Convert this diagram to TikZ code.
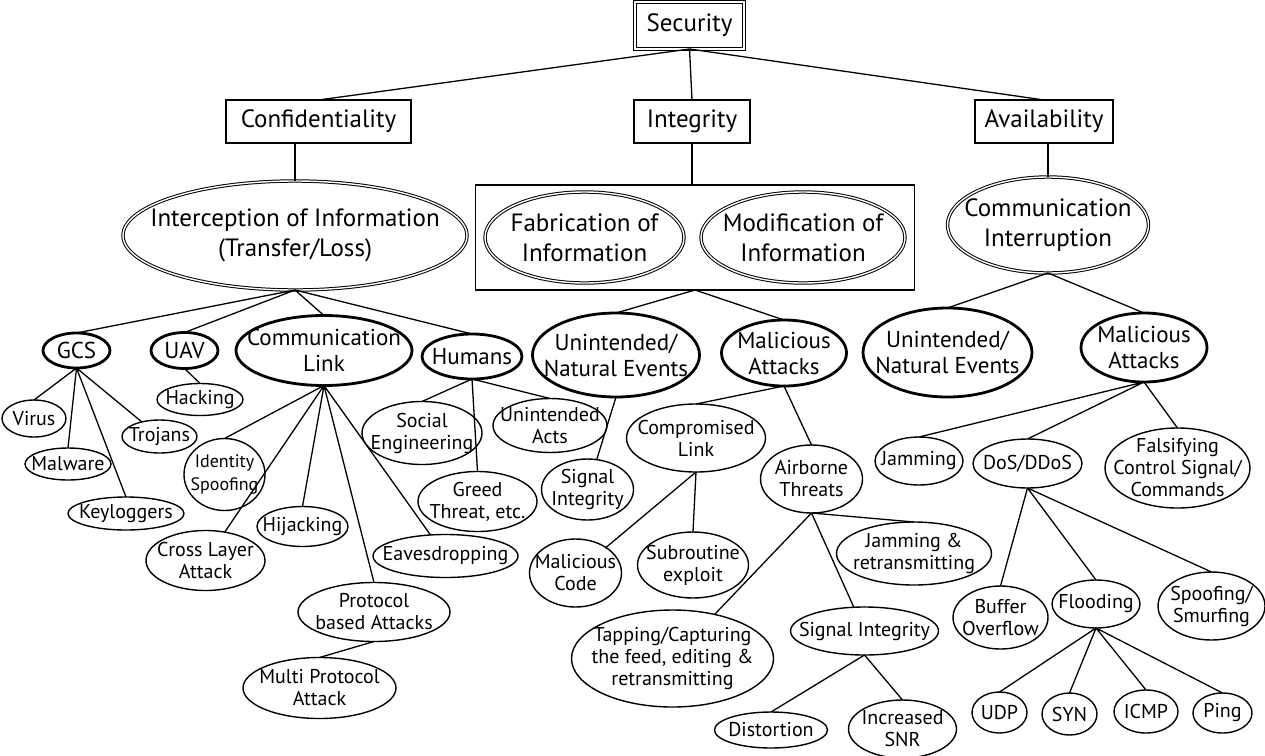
\documentclass[tikz,border=0pt]{standalone}
\usepackage{fontspec}
\setmainfont{PT Sans}
\usetikzlibrary{shapes,positioning,fit}

\begin{document}
\begin{tikzpicture}[x=1pt, y=1pt, line width=1.3pt,
        dims/.style 2 args={minimum width=#1pt, minimum height=#2pt},
        goal/.style={rectangle, draw, line width=1.2pt, inner sep=0pt, outer sep=0pt, font=\fontsize{25}{30}\selectfont},
        threat/.style={ellipse, draw, double, line width=1pt, double distance=1.4pt, inner xsep=-40pt, inner ysep=-25pt, outer sep=0pt, align=center, font=\fontsize{25}{30}\selectfont},
        source/.style={ellipse, draw, line width=2.8pt, inner xsep=-40pt, inner ysep=-25pt, outer sep=0pt, align=center, font=\fontsize{23}{26}\selectfont},
        attack/.style={ellipse, draw, line width=1.4pt, inner xsep=-40pt, inner ysep=-25pt, outer sep=0pt, align=center, font=\fontsize{20}{22}\selectfont}]

        \useasboundingbox (0,0) rectangle (1265,-755);

        % top of the tree
        \node[goal, double, double distance=2pt, line width=1pt, dims={109}{47}] (security) at (689.5,-25.5) {Security};
        \node[goal, dims={185}{43}, below=51pt of security, xshift=-371pt] (conf) {Confidentiality};
        \node[goal, dims={116}{43}, below=51pt of security, xshift=2.5pt] (integ) {Integrity};
        \node[goal, dims={138}{43}, below=51pt of security, xshift=354.5pt] (avail) {Availability};

        \node[threat, dims={344}{109}, below=38pt of conf, xshift=-23.5pt] (intercept) {Interception of Information\\(Transfer/Loss)};
        \node[threat, dims={199}{91}, below=49pt of integ, xshift=-107.5pt] (fabric) {Fabrication of\\Information};
        \node[threat, dims={204}{91}, right=17pt of fabric] (modif) {Modification of\\Information};
        \node[draw, line width=1.2pt, fit=(fabric)(modif), inner xsep=9.5pt, inner ysep=7pt, outer sep=0pt] (infobox) {};
        \node[threat, dims={201}{96}, below=34pt of avail, xshift=4pt] (commint) {Communication\\Interruption};

        % sources of threat
        \node[source, dims={67}{35}, below=43pt of intercept, xshift=-218.5pt] (gcs) {GCS};
        \node[source, dims={67}{36}, right=41pt of gcs] (uav) {UAV};
        \node[source, dims={176}{70}, right=18pt of uav] (commlink) {Communication\\Link};
        \node[source, dims={100}{45}, right=10pt of commlink, yshift=-6pt] (humans) {Humans};
        \node[source, dims={167}{84}, below=23pt of infobox, xshift=-79pt] (unint1) {Unintended/\\Natural Events};
        \node[source, dims={125}{66}, right=22pt of unint1, yshift=2pt] (malic1) {Malicious\\Attacks};
        \node[source, dims={169}{89}, below=35pt of commint, xshift=-100.5pt] (unint2) {Unintended/\\Natural Events};
        \node[source, dims={126}{69}, right=49pt of unint2, yshift=5pt] (malic2) {Malicious\\Attacks};

        % confidentiality attacks
        \node[attack, dims={64}{37}, below=32pt of gcs, xshift=-42.5pt] (virus) {Virus};
        \node[attack, dims={86}{32}, below=80pt of gcs, xshift=-8.5pt] (malware) {Malware};
        \node[attack, dims={116}{33}, below=129pt of gcs, xshift=49.5pt] (keylog) {Keyloggers};
        \node[attack, dims={75}{33}, below=52pt of gcs, xshift=83pt] (trojans) {Trojans};
        \node[attack, dims={86}{32}, below=15pt of uav, xshift=15.5pt] (hacking) {Hacking};
        \node[attack, dims={81}{72}, below=53pt of commlink, xshift=-99.5pt, font=\fontsize{18}{23}\selectfont] (identity) {Identity\\Spoofing};
        \node[attack, dims={119}{60}, below=145pt of commlink, xshift=-118.5pt] (crosslayer) {Cross Layer\\Attack};
        \node[attack, dims={91}{40}, below=121pt of commlink, xshift=-21.5pt] (hijack) {Hijacking};
        \node[attack, dims={145}{43}, below=149pt of commlink, xshift=121.5pt] (eaves) {Eavesdropping};
        \node[attack, dims={152}{59}, below=197pt of commlink, xshift=50pt] (protocol) {Protocol\\based Attacks};
        \node[attack, dims={153}{61}, below=16pt of protocol, xshift=-54.5pt] (multiproto) {Multi Protocol\\Attack};
        \node[attack, dims={120}{63}, below=22.5pt of humans, xshift=-50pt] (social) {Social\\Engineering};
        \node[attack, dims={119}{60}, below=92.5pt of humans, xshift=5.5pt] (greed) {Greed\\Threat, etc.};
        \node[attack, dims={114}{54}, below=19.5pt of humans, xshift=78pt] (unacts) {Unintended\\Acts};

        % integrity attacks
        \node[attack, dims={92}{61}, below=62pt of unint1, xshift=-28.5pt] (sigint1) {Signal\\Integrity};
        \node[attack, dims={139}{68}, below=18pt of malic1, xshift=-88pt] (complink) {Compromised\\Link};
        \node[attack, dims={102}{68}, below=59pt of malic1, xshift=27.5pt] (airborne) {Airborne\\Threats};
        \node[attack, dims={92}{68}, below=67pt of complink, xshift=-120.5pt] (malcode) {Malicious\\Code};
        \node[attack, dims={111}{66}, below=60pt of complink, xshift=-3pt] (subrout) {Subroutine\\exploit};
        \node[attack, dims={202}{97}, below=97pt of airborne, xshift=-139pt] (tapping) {Tapping/Capturing\\the feed, editing \&\\retransmitting};
        \node[attack, dims={148}{48}, below=94pt of airborne, xshift=53pt] (sigint2) {Signal Integrity};
        \node[attack, dims={155}{63}, below=9pt of airborne, xshift=102.5pt] (jamretx) {Jamming \&\\retransmitting};
        \node[attack, dims={113}{36}, below=57pt of sigint2, xshift=-93.5pt] (distort) {Distortion};
        \node[attack, dims={108}{58}, below=45pt of sigint2, xshift=38pt] (snr) {Increased\\SNR};

        % availability attacks
        \node[attack, dims={88}{48}, below=55pt of malic2, xshift=-225pt] (jamming) {Jamming};
        \node[attack, dims={109}{49}, below=57pt of malic2, xshift=-116.5pt] (dos) {DoS/DDoS};
        \node[attack, dims={145}{80}, below=46pt of malic2, xshift=33.5pt] (falsify) {Falsifying\\Control Signal/\\Commands};
        \node[attack, dims={95}{63}, below=98pt of dos, xshift=-27pt] (buffer) {Buffer\\Overflow};
        \node[attack, dims={88}{48}, below=92pt of dos, xshift=68.5pt] (flood) {Flooding};
        \node[attack, dims={107}{68}, below=84pt of dos, xshift=184pt] (spoof) {Spoofing/\\Smurfing};
        \node[attack, dims={55}{41}, below=64pt of flood, xshift=-96.5pt] (udp) {UDP};
        \node[attack, dims={55}{42}, below=65pt of flood, xshift=-26.5pt] (syn) {SYN};
        \node[attack, dims={64}{43}, below=62pt of flood, xshift=50pt] (icmp) {ICMP};
        \node[attack, dims={59}{40}, below=65pt of flood, xshift=126.5pt] (ping) {Ping};

        % connectors
        \draw (security.south) -- (conf.north) (security.south) -- (integ.north) (security.south) -- (avail.north);
        \draw (intercept.north) -- (intercept.north |- conf.south);
        \draw (integ.south) -- (integ.south |- infobox.north);
        \draw (commint.north) -- (commint.north |- avail.south);

        \draw (intercept.south) -- (gcs.north) (intercept.south) -- (uav.north) (intercept.south) -- (commlink.north) (intercept.south) -- (humans.north);
        \draw (infobox.south) -- (unint1.north) (infobox.south) -- (malic1.north);
        \draw (commint.south) -- (unint2.north) (commint.south) -- (malic2.north);

        \draw (gcs.south) -- (virus.north) (gcs.south) -- (malware.north) (gcs.south) -- (keylog.north) (gcs.south) -- (trojans);
        \draw (uav.south) -- (hacking.north);
        \draw (commlink.south) -- (identity.north) (commlink.south) -- (crosslayer) (commlink.south) -- (hijack.north)
              (commlink.south) -- (protocol.north) (commlink.south) -- (eaves);
        \draw (protocol.south) -- (multiproto.north);
        \draw (humans.south) -- (social.north) (humans.south) -- (greed.north) (humans.south) -- (unacts.north);

        \draw (unint1.south) -- (sigint1);
        \draw (malic1.south) -- (complink.north) (malic1.south) -- (airborne.north);
        \draw (complink.south) -- (malcode) (complink.south) -- (subrout.north);
        \draw (airborne.south) -- (tapping) (airborne.south) -- (sigint2) (airborne.south) -- (jamretx.north);
        \draw (sigint2.south) -- (distort.north) (sigint2.south) -- (snr.north);

        \draw (malic2.south) -- (jamming.north) (malic2.south) -- (dos.north) (malic2.south) -- (falsify.north);
        \draw (dos.south) -- (buffer.north) (dos.south) -- (flood.north) (dos.south) -- (spoof.north);
        \draw (flood.south) -- (udp.north) (flood.south) -- (syn.north) (flood.south) -- (icmp.north) (flood.south) -- (ping.north);

    \end{tikzpicture}
\end{document}
